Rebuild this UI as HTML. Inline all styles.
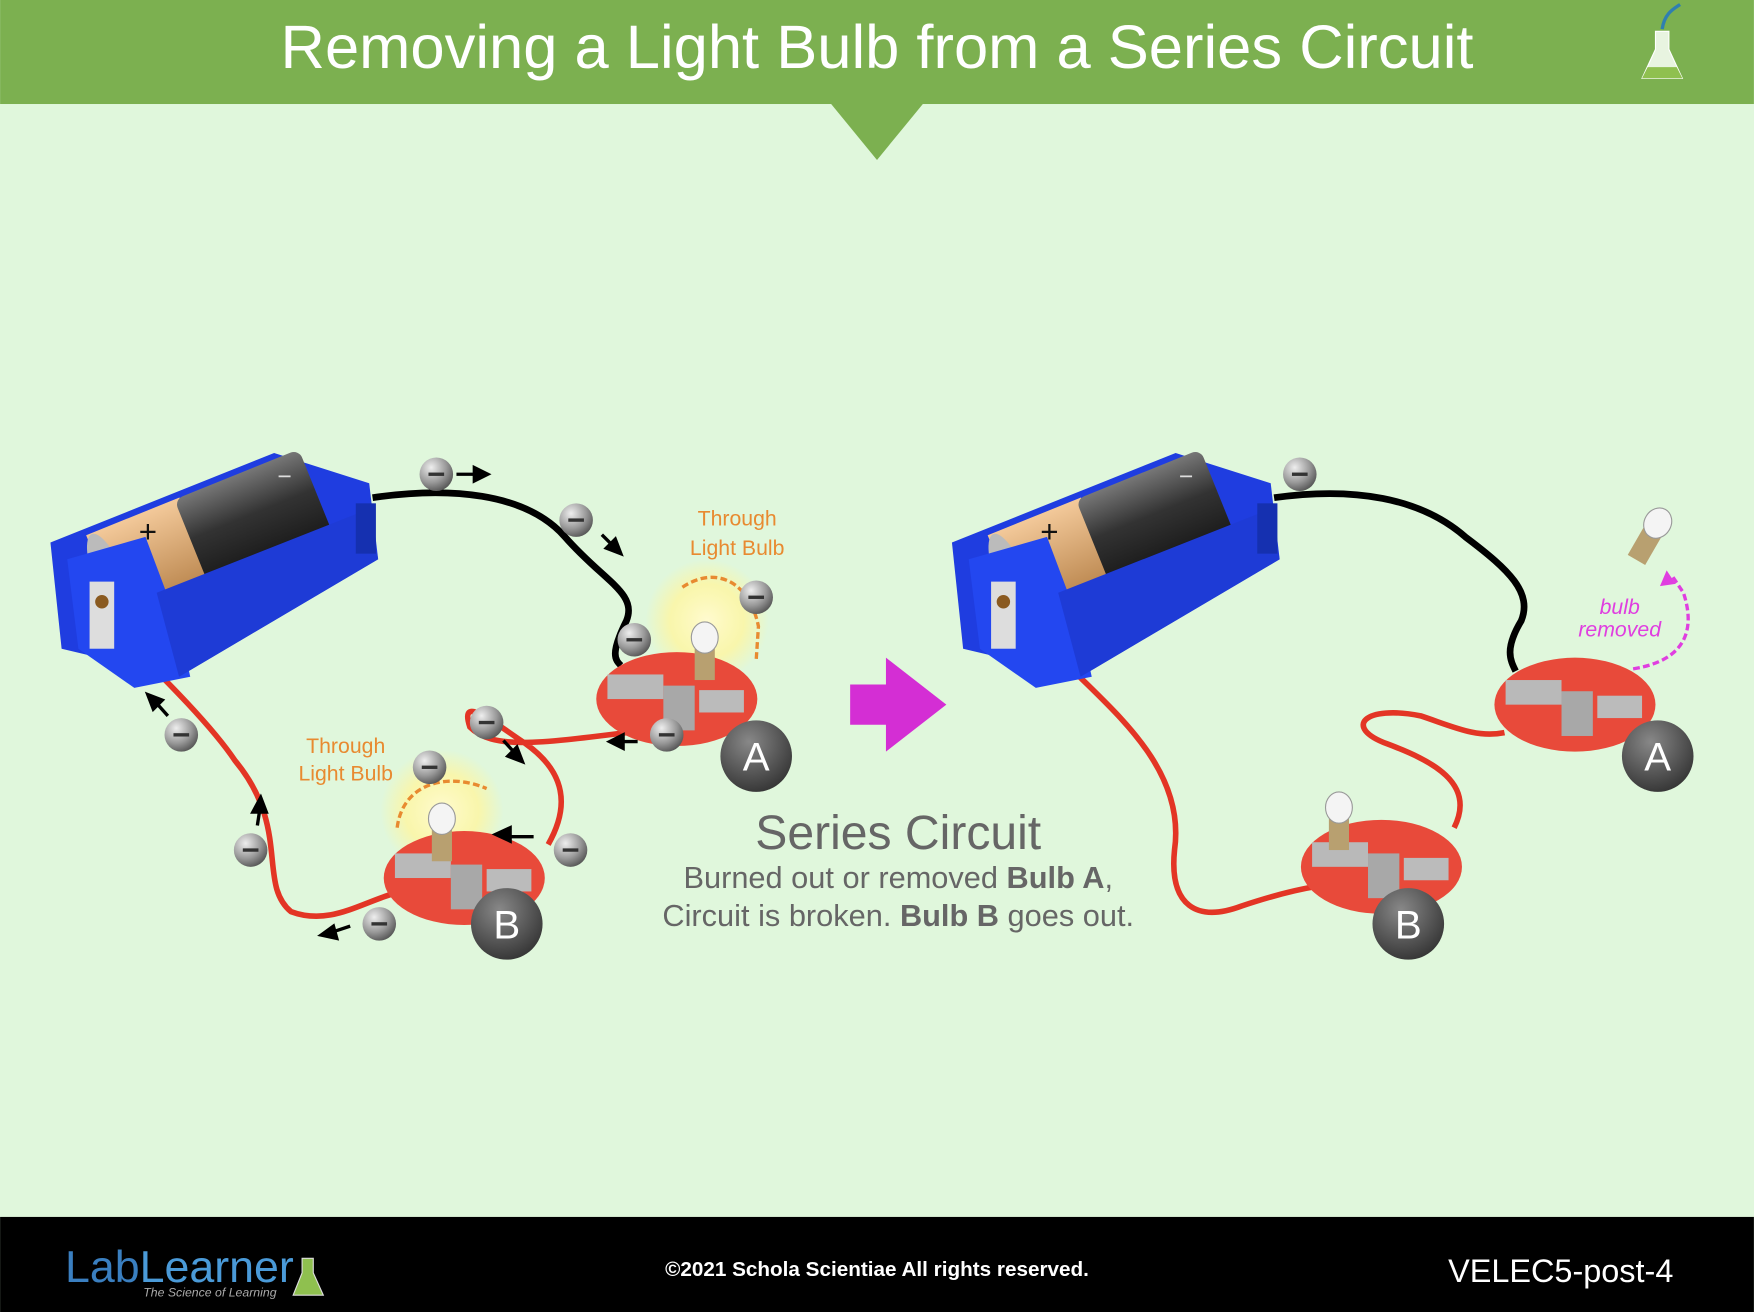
<!DOCTYPE html>
<html><head><meta charset="utf-8"><style>
html,body{margin:0;padding:0;background:#e0f7dc}
svg{display:block}
text{font-family:"Liberation Sans",sans-serif}
</style></head><body>
<svg width="1754" height="1312" viewBox="0 0 1568 1173" xmlns="http://www.w3.org/2000/svg">
<defs>
<radialGradient id="el" cx="35%" cy="30%" r="75%"><stop offset="0" stop-color="#eee"/><stop offset="0.6" stop-color="#999"/><stop offset="1" stop-color="#555"/></radialGradient>
<radialGradient id="lab" cx="40%" cy="30%" r="75%"><stop offset="0" stop-color="#888"/><stop offset="1" stop-color="#333"/></radialGradient>
<radialGradient id="glow"><stop offset="0" stop-color="#fffbd0"/><stop offset="0.6" stop-color="#fff6a0" stop-opacity="0.8"/><stop offset="1" stop-color="#fff6a0" stop-opacity="0"/></radialGradient>
<linearGradient id="gold" x1="0" y1="0" x2="0" y2="1"><stop offset="0" stop-color="#f3c99a"/><stop offset="1" stop-color="#b07a40"/></linearGradient>
<linearGradient id="blk" x1="0" y1="0" x2="0" y2="1"><stop offset="0" stop-color="#777"/><stop offset="0.4" stop-color="#333"/><stop offset="1" stop-color="#111"/></linearGradient>
<g id="batt">
 <polygon points="45,485 245,405 330,432 338,500 160,605 55,580" fill="#1f3de0"/>
 <g transform="rotate(-22 180 480)">
  <rect x="85" y="440" width="90" height="95" fill="url(#gold)"/>
  <rect x="170" y="440" width="120" height="95" rx="8" fill="url(#blk)"/>
  <ellipse cx="90" cy="488" rx="14" ry="47" fill="#bbb"/>
 </g>
 <text x="124" y="485" font-size="28" fill="#111">+</text>
 <text x="248" y="433" font-size="22" fill="#ddd">−</text>
 <polygon points="60,500 130,480 160,560 170,605 120,615 70,580" fill="#2347f0"/>
 <polygon points="140,530 330,455 338,500 160,605" fill="#1e3bd6"/>
 <rect x="80" y="520" width="22" height="60" fill="#ddd"/>
 <circle cx="91" cy="538" r="6" fill="#8a5a20"/>
 <rect x="318" y="450" width="18" height="45" fill="#1530b0"/>
</g>
<g id="holder">
 <ellipse cx="0" cy="0" rx="72" ry="42" fill="#e84a3a"/>
 <rect x="-62" y="-22" width="50" height="22" fill="#b9b9b9"/>
 <rect x="-12" y="-12" width="28" height="40" fill="#a8a8a8"/>
 <rect x="20" y="-8" width="40" height="20" fill="#bbb"/>
</g>
<g id="bulb">
 <rect x="-9" y="-10" width="18" height="28" fill="#b8a070"/>
 <ellipse cx="0" cy="-20" rx="12" ry="14" fill="#f4f4f4" stroke="#999"/>
</g>
<g id="e"><circle r="15" fill="url(#el)"/><rect x="-7" y="-1.5" width="14" height="3" fill="#333"/></g>
</defs>
<rect width="1568" height="1173" fill="#e0f7dc"/>
<rect width="1568" height="93" fill="#7cb050"/>
<polygon points="743,93 825,93 784,143" fill="#7cb050"/>
<text x="784" y="61" font-size="55" fill="#fff" text-anchor="middle">Removing a Light Bulb from a Series Circuit</text>
<g transform="translate(1486,40)"><path d="M-6,-12 L6,-12 L6,4 L18,30 L-18,30 L-6,4Z" fill="#e8f4e0" stroke="#fff"/><path d="M-13,20 L13,20 L18,30 L-18,30Z" fill="#8fc04f"/><path d="M0,-14 C2,-28 10,-32 16,-36" stroke="#2f7fb0" stroke-width="3" fill="none"/></g>

<!-- left circuit -->
<path d="M333,445 C400,435 470,440 505,480 C540,520 570,530 560,555 C545,585 550,590 555,595" stroke="#000" stroke-width="6" fill="none"/>
<path d="M110,570 C150,610 190,650 210,680 C260,740 230,790 260,815 C300,830 330,800 370,795 M490,755 C510,720 505,690 470,665 C440,645 410,620 420,650 C440,670 480,665 560,655 L590,650" stroke="#e33525" stroke-width="5" fill="none"/>
<use href="#batt"/>
<circle cx="632" cy="555" r="55" fill="url(#glow)"/>
<circle cx="395" cy="725" r="55" fill="url(#glow)"/>
<use href="#holder" x="605" y="625"/>
<use href="#bulb" x="630" y="590"/>
<use href="#holder" x="415" y="785"/>
<use href="#bulb" x="395" y="752"/>
<path d="M610,525 C640,505 670,520 678,560 L676,590" stroke="#e88a30" stroke-width="3" fill="none" stroke-dasharray="6,3"/>
<path d="M355,740 C360,700 400,690 435,705" stroke="#e88a30" stroke-width="3" fill="none" stroke-dasharray="6,3"/>
<text x="659" y="470" font-size="19" fill="#e88a30" text-anchor="middle">Through</text>
<text x="659" y="496" font-size="19" fill="#e88a30" text-anchor="middle">Light Bulb</text>
<text x="309" y="673" font-size="19" fill="#e88a30" text-anchor="middle">Through</text>
<text x="309" y="698" font-size="19" fill="#e88a30" text-anchor="middle">Light Bulb</text>
<g stroke="#000" stroke-width="3" fill="#000">
<path d="M408,424 H425"/><polygon points="436,424 424,418 424,430"/>
<path d="M538,478 L548,488"/><polygon points="555,495 542,490 550,482"/>
<path d="M570,663 H555"/><polygon points="545,663 557,657 557,669"/>
<path d="M450,662 L460,673"/><polygon points="467,681 454,676 462,668"/>
<path d="M477,748 H455"/><polygon points="443,746 456,740 456,752"/>
<path d="M313,828 L298,833"/><polygon points="287,836 298,828 301,839"/>
<path d="M230,738 L232,725"/><polygon points="233,713 238,726 226,726"/>
<path d="M150,640 L141,630"/><polygon points="132,621 145,626 137,634"/>
</g>
<use href="#e" x="390" y="424"/><use href="#e" x="515" y="465"/><use href="#e" x="567" y="572"/>
<use href="#e" x="676" y="534"/><use href="#e" x="596" y="657"/><use href="#e" x="435" y="646"/>
<use href="#e" x="384" y="686"/><use href="#e" x="510" y="760"/><use href="#e" x="339" y="826"/>
<use href="#e" x="224" y="760"/><use href="#e" x="162" y="657"/>
<circle cx="676" cy="676" r="32" fill="url(#lab)"/><text x="676" y="689" font-size="36" fill="#fff" text-anchor="middle">A</text>
<circle cx="453" cy="826" r="32" fill="url(#lab)"/><text x="453" y="839" font-size="36" fill="#fff" text-anchor="middle">B</text>

<polygon points="760,612 792,612 792,588 846,630 792,672 792,648 760,648" fill="#d42ed4"/>

<!-- right circuit -->
<path d="M1139,445 C1210,435 1270,445 1310,480 C1350,510 1370,530 1360,555 C1345,580 1350,590 1355,600" stroke="#000" stroke-width="6" fill="none"/>
<path d="M960,600 C1000,640 1060,690 1050,760 C1045,810 1070,825 1110,810 C1140,800 1160,795 1180,792 M1300,740 C1320,700 1280,680 1240,665 C1200,650 1220,630 1270,640 C1300,650 1320,660 1345,655" stroke="#e33525" stroke-width="5" fill="none"/>
<use href="#batt" x="806"/>
<use href="#holder" x="1408" y="630"/>
<use href="#holder" x="1235" y="775"/>
<use href="#bulb" x="1197" y="742"/>
<g transform="translate(1472,485) rotate(30)"><use href="#bulb"/></g>
<path d="M1460,598 C1510,590 1515,560 1505,530 L1495,515" stroke="#e03ee0" stroke-width="3" fill="none" stroke-dasharray="6,3"/>
<polygon points="1490,510 1484,524 1498,522" fill="#e03ee0"/>
<text x="1448" y="549" font-size="19" font-style="italic" fill="#e03ee0" text-anchor="middle">bulb</text>
<text x="1448" y="569" font-size="19" font-style="italic" fill="#e03ee0" text-anchor="middle">removed</text>
<use href="#e" x="1162" y="424"/>
<circle cx="1482" cy="676" r="32" fill="url(#lab)"/><text x="1482" y="689" font-size="36" fill="#fff" text-anchor="middle">A</text>
<circle cx="1259" cy="826" r="32" fill="url(#lab)"/><text x="1259" y="839" font-size="36" fill="#fff" text-anchor="middle">B</text>

<text x="803" y="759" font-size="43" fill="#666" text-anchor="middle">Series Circuit</text>
<text x="803" y="794" font-size="27.5" fill="#666" text-anchor="middle">Burned out or removed <tspan font-weight="bold">Bulb A</tspan>,</text>
<text x="803" y="828" font-size="27.5" fill="#666" text-anchor="middle">Circuit is broken. <tspan font-weight="bold">Bulb B</tspan> goes out.</text>

<rect y="1088" width="1568" height="85" fill="#000"/>
<text x="58" y="1146" font-size="40" fill="#3a7fc0">Lab<tspan fill="#4a9ad8">Learner</tspan></text>
<text x="128" y="1159" font-size="11" font-style="italic" fill="#aaa">The Science of Learning</text>
<path d="M270,1125 L280,1125 L280,1138 L289,1158 L262,1158 L270,1138Z" fill="#8fc04f" stroke="#ddd"/>
<text x="784" y="1141" font-size="18.5" font-weight="bold" fill="#fff" text-anchor="middle">©2021 Schola Scientiae   All rights reserved.</text>
<text x="1496" y="1146" font-size="29" fill="#fff" text-anchor="end">VELEC5-post-4</text>
</svg>
</body></html>
